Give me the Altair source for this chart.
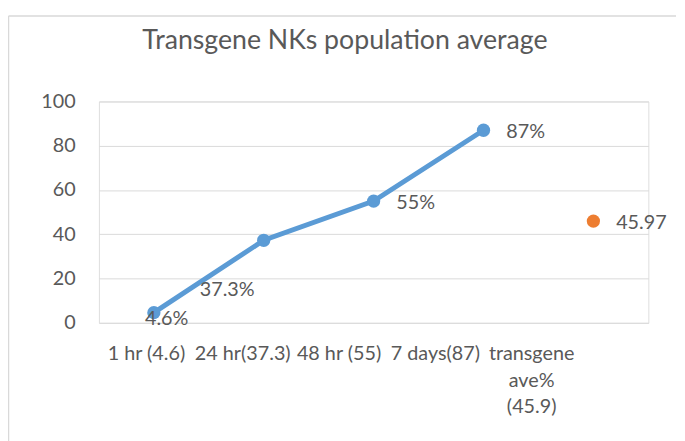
import altair as alt
import pandas as pd

categories = ["1 hr (4.6)", "24 hr(37.3)", "48 hr (55)", "7 days(87)", "transgene\nave%\n(45.9)"]
values = [4.6, 37.3, 55, 87, 45.97]
labels = ["4.6%", "37.3%", "55%", "87%", "45.97"]
series = ["time", "time", "time", "time", "ave"]
y_ticks = [0, 20, 40, 60, 80, 100]

df = pd.DataFrame({"cat": categories, "val": values, "lab": labels, "series": series})

FONT = "Lato"
TXT = "#595959"
BLUE = "#5b9bd5"
ORANGE = "#ed7d31"
FS = 20

x_enc = alt.X("cat:N", sort=categories, title=None,
              scale=alt.Scale(paddingInner=0, paddingOuter=0),
              axis=alt.Axis(labelAngle=0, domain=False, ticks=False, tickSize=0,
                            labelPadding=21, labelFont=FONT, labelFontSize=FS,
                            labelColor=TXT, labelLineHeight=27,
                            labelOffset={"expr": "-8 - 55 * datum.index"},
                            labelExpr="split(datum.label, '\\n')"))
y_enc = alt.Y("val:Q", title=None,
              scale=alt.Scale(domain=[0, 100], nice=False),
              axis=alt.Axis(values=y_ticks, domain=False, ticks=False, tickSize=0,
                            labelPadding=24, labelFont=FONT, labelFontSize=FS,
                            labelColor=TXT, gridColor="#d9d9d9", gridWidth=1))

base = alt.Chart(df)

line = base.transform_filter(alt.datum.series == "time").mark_line(
    color=BLUE, strokeWidth=5).encode(x=x_enc, y=y_enc)

points = base.mark_point(filled=True, size=180, opacity=1).encode(
    x=x_enc, y=y_enc,
    color=alt.Color("series:N", scale=alt.Scale(domain=["time", "ave"], range=[BLUE, ORANGE]), legend=None))

txt_right = base.transform_filter(
    (alt.datum.lab == "55%") | (alt.datum.lab == "87%") | (alt.datum.lab == "45.97")
).mark_text(align="left", baseline="middle", dx=23, dy=2, font=FONT, fontSize=FS, color=TXT).encode(
    x=x_enc, y=y_enc, text="lab:N")

txt_first = base.transform_filter(alt.datum.lab == "4.6%").mark_text(
    align="center", baseline="middle", dx=13, dy=7, font=FONT, fontSize=FS, color=TXT).encode(
    x=x_enc, y=y_enc, text="lab:N")

txt_second = base.transform_filter(alt.datum.lab == "37.3%").mark_text(
    align="center", baseline="middle", dx=-37, dy=50, font=FONT, fontSize=FS, color=TXT).encode(
    x=x_enc, y=y_enc, text="lab:N")

border_left = alt.Chart(df).transform_filter(alt.datum.lab == "4.6%").mark_rule(
    color="#d9d9d9", strokeWidth=1.5).encode(
    x=alt.value(-91.5), y=alt.value(-86.5), y2=alt.value(345))
border_top = alt.Chart(df).transform_filter(alt.datum.lab == "4.6%").mark_rule(
    color="#d9d9d9", strokeWidth=1.5).encode(
    x=alt.value(-91.5), x2=alt.value(584), y=alt.value(-86.5))

chart = alt.layer(border_left, border_top, line, points, txt_right, txt_first, txt_second).properties(
    width=556, height=224,
    title=alt.TitleParams("Transgene NKs population average", font=FONT, fontSize=27,
                          fontWeight="normal", color=TXT, anchor="middle", dx=-29, offset=-40),
    autosize=alt.AutoSizeParams(type="none"),
    padding={"left": 92, "top": 92, "right": 29, "bottom": 117},
).configure_view(stroke=None).configure(background="white")

chart.save("out.html", embed_options={"renderer": "svg", "actions": False})
